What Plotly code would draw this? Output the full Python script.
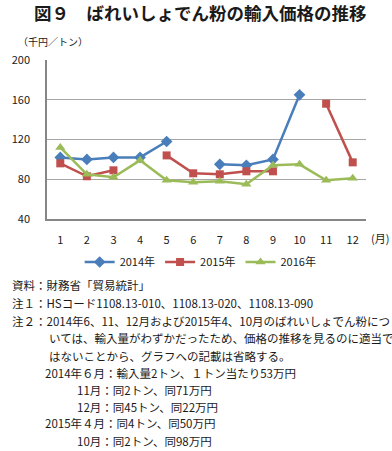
import plotly.graph_objects as go

months = ["1", "2", "3", "4", "5", "6", "7", "8", "9", "10", "11", "12"]
series_names = ["2014年", "2015年", "2016年"]
v2014 = [102, 100, 102, 102, 118, None, 95, 94, 100, 165, None, None]
v2015 = [96, 83, 89, None, 104, 86, 85, 88, 88, None, 156, 97]
v2016 = [112, 85, 82, 99, 79, 77, 78, 75, 94, 95, 79, 81]
y_ticks = [40, 80, 120, 160, 200]

colors = ["#4A7EBB", "#C0504D", "#9BBB59"]
symbols = ["diamond", "square", "triangle-up"]
FONT = "Noto Sans CJK JP"
TXT = "#1a1a1a"

W, H = 392, 451
L, R, T, B = 38, 366, 60, 219

fig = go.Figure()
for name, vals, c, s in zip(series_names, [v2014, v2015, v2016], colors, symbols):
    fig.add_trace(go.Scatter(
        x=months, y=vals, name=name, mode="lines+markers",
        line=dict(color=c, width=2.5),
        marker=dict(symbol=s, size=9 if s != "square" else 8, color=c),
        connectgaps=False,
    ))

def px(x):
    return (x - L) / (R - L)

def py(y):
    return (B - y) / (B - T)

ann = []
def add_text(text, x, y, size=12, anchor="left", bold=False):
    ann.append(dict(text=("<b>%s</b>" % text) if bold else text,
                    x=px(x), y=py(y), xref="paper", yref="paper",
                    xanchor=anchor, yanchor="middle", showarrow=False,
                    font=dict(family=FONT, size=size, color=TXT)))

add_text("図９　ばれいしょでん粉の輸入価格の推移", 196, 12, size=17.5, anchor="center", bold=True)
add_text("（千円／トン）", 6, 41, size=10)
add_text("(月)", 369, 238, size=11)

notes = [
    ("資料：財務省「貿易統計」", 0, 285),
    ("注１：HSコード1108.13-010、1108.13-020、1108.13-090", 0, 303),
    ("注２：2014年6、11、12月および2015年4、10月のばれいしょでん粉につ", 0, 321),
    ("いては、輸入量がわずかだったため、価格の推移を見るのに適当で", 38, 338),
    ("はないことから、グラフへの記載は省略する。", 38, 356),
    ("2014年６月：輸入量2トン、１トン当たり53万円", 34, 373),
    ("11月：同2トン、同71万円", 67, 390),
    ("12月：同45トン、同22万円", 67, 407),
    ("2015年４月：同4トン、同50万円", 34, 423),
    ("10月：同2トン、同98万円", 67, 441),
]
for t, x, y in notes:
    add_text(t, x, y, size=11.5)

fig.update_layout(
    width=W, height=H,
    margin=dict(l=L, r=W - R, t=T, b=H - B),
    paper_bgcolor="white", plot_bgcolor="white",
    font=dict(family=FONT, size=11, color=TXT),
    showlegend=True,
    legend=dict(orientation="h", x=px(196), y=py(262), xanchor="center", yanchor="middle",
                font=dict(family=FONT, size=11, color=TXT), itemwidth=30,
                tracegroupgap=0, bgcolor="rgba(0,0,0,0)"),
    annotations=ann,
    xaxis=dict(type="category", range=[-0.5, 11.5], showgrid=False,
               showline=True, linecolor="#868686", linewidth=1.5,
               ticks="", tickfont=dict(size=11), ticklabelstandoff=10, fixedrange=True),
    yaxis=dict(range=[40, 200], tickvals=y_ticks, showgrid=True, gridcolor="#a6a6a6",
               gridwidth=1, showline=True, linecolor="#868686", linewidth=1.5,
               zeroline=False, ticks="", tickfont=dict(size=11), ticklabelstandoff=13, fixedrange=True),
)

fig.write_html("out.html", config={"displayModeBar": False},
               post_script="document.body.style.margin='0';document.body.style.overflow='hidden';")
